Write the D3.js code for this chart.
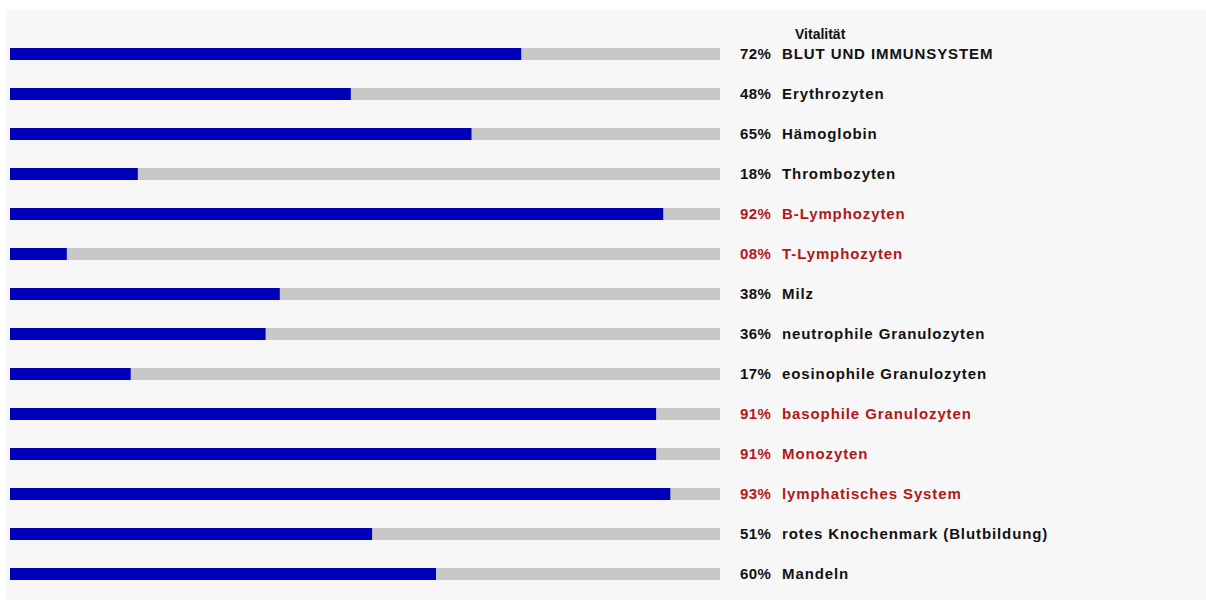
<!DOCTYPE html>
<html>
<head>
<meta charset="utf-8">
<script src="https://cdn.jsdelivr.net/npm/d3@7"></script>
<style>
  body { margin: 0; background: #ffffff; }
  text { font-family: "Liberation Sans", Arial, sans-serif; font-weight: bold; }
</style>
</head>
<body>
<script>
var width = 1206;
var height = 605;

// data
var labels = ["BLUT UND IMMUNSYSTEM", "Erythrozyten", "Hämoglobin", "Thrombozyten",
              "B-Lymphozyten", "T-Lymphozyten", "Milz", "neutrophile Granulozyten",
              "eosinophile Granulozyten", "basophile Granulozyten", "Monozyten",
              "lymphatisches System", "rotes Knochenmark (Blutbildung)", "Mandeln"];
var values = [72, 48, 65, 18, 92, 8, 38, 36, 17, 91, 91, 93, 51, 60];
var flagged = [false, false, false, false, true, true, false, false, false, true, true, true, false, false];
var title = "Vitalität";

var svg = d3.select("body").append("svg")
    .attr("width", width)
    .attr("height", height);

//panel background
svg.append("rect")
    .attr("x", 6).attr("y", 10)
    .attr("width", width - 6).attr("height", 590)
    .attr("fill", "#f7f7f7");

var x = d3.scaleLinear().domain([0, 100]).range([10, 720]);
var y = d3.scaleBand().domain(d3.range(labels.length)).range([34, 594]).paddingInner(0.7).paddingOuter(0.35);

var rows = svg.selectAll(".row").data(values).enter().append("g")
    .attr("class", "row")
    .attr("transform", function(d, i) { return "translate(0," + y(i) + ")"; });

var bh = 12;

//gray track
rows.append("rect")
    .attr("x", x(0)).attr("y", 0)
    .attr("width", x(100) - x(0)).attr("height", bh)
    .attr("fill", "#c8c8c8");

//blue value
rows.append("rect")
    .attr("x", x(0)).attr("y", 0)
    .attr("width", function(d) { return x(d) - x(0); }).attr("height", bh)
    .attr("fill", "#0000b8");

rows.append("text")
    .attr("x", 740).attr("y", bh / 2 + 5)
    .attr("font-size", "15px")
    .attr("letter-spacing", "0.4px")
    .attr("fill", function(d, i) { return flagged[i] ? "#b01818" : "#111"; })
    .text(function(d) { return (d < 10 ? "0" : "") + d + "%"; });

rows.append("text")
    .attr("x", 782).attr("y", bh / 2 + 5)
    .attr("font-size", "15px")
    .attr("letter-spacing", "0.9px")
    .attr("fill", function(d, i) { return flagged[i] ? "#b01818" : "#111"; })
    .text(function(d, i) { return labels[i]; });

svg.append("text")
    .attr("x", 795).attr("y", 39)
    .attr("font-size", "14px")
    .attr("fill", "#111")
    .text(title);
</script>
</body>
</html>
